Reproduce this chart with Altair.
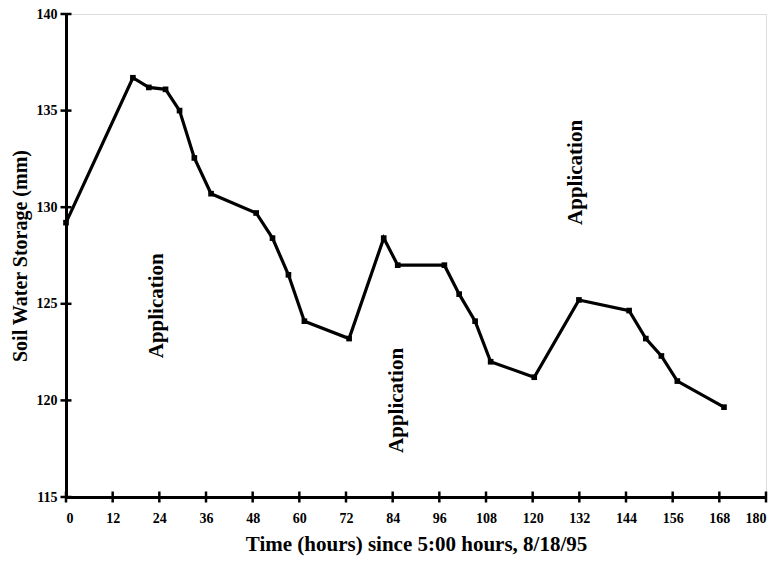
import altair as alt
import pandas as pd

hours = [0, 17.2, 21.3, 25.6, 29.2, 33.0, 37.3, 48.9, 53.1, 57.2, 61.3, 72.8,
         81.7, 85.3, 97.3, 101.1, 105.2, 109.2, 120.4, 131.9, 144.8, 149.1,
         153.1, 157.2, 169.2]
storage = [129.2, 136.7, 136.2, 136.1, 135.0, 132.55, 130.7, 129.7, 128.4,
           126.5, 124.1, 123.2, 128.4, 127.0, 127.0, 125.5, 124.1, 122.0,
           121.2, 125.2, 124.65, 123.2, 122.3, 121.0, 119.65]

label_text = ["Application", "Application", "Application"]
label_x = [23.3, 85.2, 131.2]
label_y = [124.9, 120.0, 131.8]

x_ticks = list(range(0, 181, 12))
y_ticks = [115, 120, 125, 130, 135, 140]

df = pd.DataFrame({"hours": hours, "storage": storage})
lab = pd.DataFrame({"text": label_text, "x": label_x, "y": label_y})
xt = pd.DataFrame({"x": x_ticks, "y": [115] * len(x_ticks)})
yt = pd.DataFrame({"x": [0] * len(y_ticks), "y": y_ticks})

FONT = "Liberation Serif"

xs = alt.Scale(domain=[0, 180], nice=False, zero=False)
ys = alt.Scale(domain=[115, 140], nice=False, zero=False)

xax = alt.Axis(values=x_ticks, title="Time (hours) since 5:00 hours, 8/18/95",
               grid=False, domainColor="black", domainWidth=3, ticks=False,
               labelFont=FONT, labelFontSize=14,
               labelFontWeight="bold", labelColor="black", labelPadding=14,
               titleFont=FONT, titleFontSize=21, titleFontWeight="bold",
               titleColor="black", titlePadding=8)
yax = alt.Axis(values=y_ticks, title="Soil Water Storage (mm)",
               grid=False, domainColor="black", domainWidth=3, ticks=False,
               labelFont=FONT, labelFontSize=14,
               labelFontWeight="bold", labelColor="black", labelPadding=9,
               titleFont=FONT, titleFontSize=20, titleFontWeight="bold",
               titleColor="black", titlePadding=6)

base = alt.Chart(df)
line = base.mark_line(color="black", strokeWidth=3.2).encode(
    x=alt.X("hours:Q", scale=xs, axis=xax),
    y=alt.Y("storage:Q", scale=ys, axis=yax),
)
pts = base.mark_point(shape="square", filled=True, color="black", size=32, opacity=1).encode(
    x=alt.X("hours:Q", scale=xs),
    y=alt.Y("storage:Q", scale=ys),
)
xticks = alt.Chart(xt).mark_tick(orient="vertical", color="black", size=11,
                                 thickness=2.5, opacity=1).encode(
    x=alt.X("x:Q", scale=xs),
    y=alt.Y("y:Q", scale=ys),
)
yticks = alt.Chart(yt).mark_tick(orient="horizontal", color="black", size=11,
                                 thickness=2.5, opacity=1).encode(
    x=alt.X("x:Q", scale=xs),
    y=alt.Y("y:Q", scale=ys),
)
texts = alt.Chart(lab).mark_text(angle=270, font=FONT, fontSize=21, fontWeight="bold",
                                 color="black", align="center", baseline="middle").encode(
    x=alt.X("x:Q", scale=xs),
    y=alt.Y("y:Q", scale=ys),
    text="text:N",
)

chart = alt.layer(line, xticks, yticks, pts, texts).properties(
    width=700, height=483,
    autosize=alt.AutoSizeParams(type="none"),
    padding={"left": 58, "top": 6, "right": 5, "bottom": 64},
).configure_view(stroke=None).configure(background="white")

chart.save("out.html", embed_options={"renderer": "svg", "actions": False})
